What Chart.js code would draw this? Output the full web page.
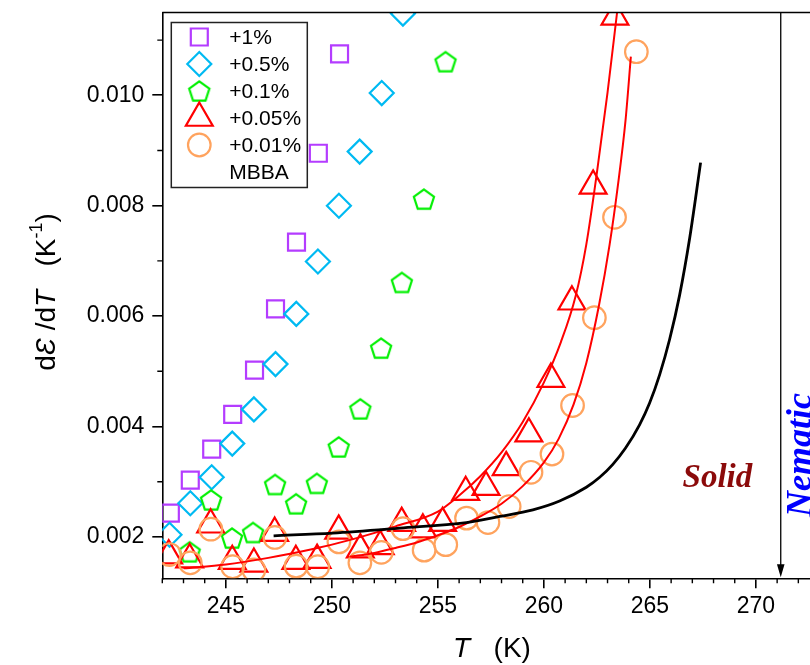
<!DOCTYPE html>
<html>
<head>
<meta charset="utf-8">
<script src="https://cdn.jsdelivr.net/npm/chart.js@4.4.1/dist/chart.umd.min.js"></script>
<style>
  html, body { margin: 0; padding: 0; background: #fff; overflow: hidden; }
  #wrap { width: 810px; height: 665px; position: relative; }
</style>
</head>
<body>
<div id="wrap"><canvas id="chart"></canvas></div>
<script>
// -------- DATA -------- //

const seriesNames = ['+1%', '+0.5%', '+0.1%', '+0.05%', '+0.01%', 'MBBA'];

// +1 %
const tOne = [242.38, 243.32, 244.33, 245.32, 246.35, 247.34, 248.33, 249.36, 250.36];
const dOne = [0.00243, 0.00303, 0.00359, 0.00422, 0.00502, 0.00613, 0.00734, 0.00895, 0.01075];

// +0.5 %
const tHalf = [242.34, 243.32, 244.33, 245.30, 246.32, 247.34, 248.32, 249.34, 250.33, 251.31, 252.35, 253.35];
const dHalf = [0.00204, 0.00261, 0.00308, 0.00369, 0.00431, 0.00513, 0.00604, 0.00699, 0.00800, 0.00898, 0.01004, 0.01148];

// +0.1 %
const tTenth = [243.29, 244.30, 245.29, 246.28, 247.32, 248.31, 249.29, 250.32, 251.34, 252.32, 253.30, 254.34, 255.36];
const dTenth = [0.00173, 0.00267, 0.00198, 0.00208, 0.00295, 0.00260, 0.00297, 0.00363, 0.00432, 0.00542, 0.00661, 0.00812, 0.01061];

// +0.05 %
const tFive = [242.30, 243.29, 244.28, 245.30, 246.32, 247.30, 248.30, 249.30, 250.32, 251.34, 252.28,
  253.29, 254.29, 255.22, 256.31, 257.27, 258.22, 259.29, 260.33, 261.32, 262.32, 263.35];
const dFive = [0.00166, 0.00159, 0.00222, 0.00156, 0.00151, 0.00207, 0.00156, 0.00158, 0.00211, 0.00177, 0.00183,
  0.00225, 0.00213, 0.00225, 0.00281, 0.00290, 0.00326, 0.00387, 0.00486, 0.00626, 0.00836, 0.01142];

// +0.01 %
const tOneHun = [242.34, 243.32, 244.29, 245.32, 246.32, 247.31, 248.31, 249.33, 250.33, 251.32, 252.33, 253.35,
  254.35, 255.37, 256.35, 257.36, 258.36, 259.39, 260.38, 261.35, 262.38, 263.33, 264.36];
const dOneHun = [0.00168, 0.00153, 0.00214, 0.00146, 0.00140, 0.00199, 0.00147, 0.00146, 0.00191, 0.00153, 0.00172, 0.00215,
  0.00176, 0.00186, 0.00234, 0.00226, 0.00255, 0.00317, 0.00350, 0.00438, 0.00597, 0.00779, 0.01079];

// fitted curves through the +0.05 % and +0.01 % points
const tFitFive = [243.0, 245.0, 247.0, 249.0, 251.0, 253.0, 255.0, 256.0, 257.0, 258.0, 259.0, 260.0,
  260.8, 261.5, 262.0, 262.5, 263.0, 263.45];
const dFitFive = [0.00143, 0.00150, 0.00162, 0.00177, 0.00196, 0.00219, 0.00246, 0.00275, 0.00310, 0.00353, 0.00408, 0.00480,
  0.00553, 0.00637, 0.00730, 0.00860, 0.01005, 0.01150];

const tFitOneHun = [250.83, 252.0, 253.0, 254.0, 255.0, 256.0, 257.0, 258.0, 259.0, 260.0, 260.7, 261.4,
  262.0, 262.6, 263.1, 263.5, 263.85, 264.1];
const dFitOneHun = [0.00164, 0.00171, 0.00180, 0.00190, 0.00203, 0.00218, 0.00237, 0.00260, 0.00292, 0.00335, 0.00378, 0.00440,
  0.00515, 0.00620, 0.00730, 0.00840, 0.00955, 0.01070];

// pure MBBA
const tMbba = [247.25, 250.03, 253.19, 256.34, 257.92, 259.48, 260.74, 262.00, 262.63, 263.24, 263.85, 264.51,
  264.98, 265.46, 265.93, 266.40, 266.87, 267.39];
const dMbba = [0.00202, 0.00207, 0.00216, 0.00226, 0.00237, 0.00249, 0.00265, 0.00290, 0.00308, 0.00331, 0.00361, 0.00403,
  0.00442, 0.00494, 0.00558, 0.00638, 0.00740, 0.00878];

// axis ranges, ticks, solid -> nematic transition
const xRange = [242, 272.55];
const yRange = [0.00125, 0.0115];
const xMajor = 5, xMinor = 1;
const yMajor = 0.002, yMinor = 0.001;
const tNematic = 271.17;

// -------- HELPERS -------- //

const pts = (xs, ys) => xs.map((x, i) => ({ x: x, y: ys[i] }));

const SANS = "'Liberation Sans', Arial, sans-serif";
const SERIF = "'Liberation Serif', 'Times New Roman', serif";

// Chart.js has no pentagon, so draw one on a small canvas
function pentagon(color) {
  const c = document.createElement('canvas');
  c.width = 28; c.height = 28;
  const g = c.getContext('2d');
  const R = 10.6, cx = 14, cy = 15;
  g.strokeStyle = color;
  g.lineWidth = 2.2;
  g.lineJoin = 'miter';
  g.beginPath();
  for (let k = 0; k < 5; k++) {
    const a = -Math.PI / 2 + k * 2 * Math.PI / 5;
    const px = cx + R * Math.cos(a), py = cy + R * Math.sin(a);
    k ? g.lineTo(px, py) : g.moveTo(px, py);
  }
  g.closePath();
  g.stroke();
  return c;
}

const PURPLE = '#B43CFF', BLUE = '#00BAF2', GREEN = '#00F000', RED = '#FF0000', ORANGE = '#FFA35E';

function markers(label, xs, ys, color, style, r, order) {
  return {
    label: label,
    data: pts(xs, ys),
    showLine: false,
    pointStyle: style,
    pointRadius: r,
    pointHoverRadius: r,
    pointBorderWidth: 2.2,
    pointBorderColor: color,
    pointBackgroundColor: 'rgba(0,0,0,0)',
    clip: 0,
    order: order
  };
}

function curve(label, xs, ys, color, width, order) {
  return {
    label: label,
    data: pts(xs, ys),
    showLine: true,
    borderColor: color,
    borderWidth: width,
    pointRadius: 0,
    pointHoverRadius: 0,
    cubicInterpolationMode: 'monotone',
    clip: 0,
    order: order
  };
}

// -------- PLUGINS -------- //

// top frame line, minor ticks, arrow and phase labels
const decorPlugin = {
  id: 'decor',
  afterDatasetsDraw(chart) {
    const { ctx, chartArea: a, scales: { x, y } } = chart;
    ctx.save();
    ctx.strokeStyle = '#000';
    ctx.lineWidth = 1.6;
    ctx.beginPath();
    ctx.moveTo(a.left, a.top);
    ctx.lineTo(a.right, a.top);
    ctx.stroke();

    ctx.lineWidth = 1.4;
    ctx.beginPath();
    for (let t = Math.ceil(xRange[0]); t <= xRange[1]; t += xMinor) {
      if (t % xMajor === 0) continue;
      const px = x.getPixelForValue(t);
      ctx.moveTo(px, a.bottom);
      ctx.lineTo(px, a.bottom + 5);
    }
    for (let v = yMinor * 2; v <= yRange[1]; v += yMinor) {
      if (Math.round(v / yMinor) % 2 === 0) continue;
      const py = y.getPixelForValue(v);
      ctx.moveTo(a.left, py);
      ctx.lineTo(a.left - 5, py);
    }
    ctx.stroke();

    // transition arrow
    const ax = x.getPixelForValue(tNematic);
    ctx.lineWidth = 1.3;
    ctx.beginPath();
    ctx.moveTo(ax, a.top);
    ctx.lineTo(ax, a.bottom - 10);
    ctx.stroke();
    ctx.fillStyle = '#000';
    ctx.beginPath();
    ctx.moveTo(ax, a.bottom - 1);
    ctx.lineTo(ax - 3.8, a.bottom - 14);
    ctx.lineTo(ax + 3.8, a.bottom - 14);
    ctx.closePath();
    ctx.fill();

    ctx.font = 'italic bold 33px ' + SERIF;
    ctx.fillStyle = '#8B0A0A';
    ctx.textBaseline = 'alphabetic';
    ctx.textAlign = 'left';
    ctx.fillText('Solid', x.getPixelForValue(266.54), y.getPixelForValue(0.00291));

    ctx.save();
    ctx.translate(x.getPixelForValue(272.62), y.getPixelForValue(0.00236));
    ctx.rotate(-Math.PI / 2);
    ctx.font = 'italic bold 36px ' + SERIF;
    ctx.fillStyle = '#0000FF';
    ctx.fillText('Nematic', 0, 0);
    ctx.restore();
    ctx.restore();
  }
};

function drawRuns(ctx, runs, cx, cy) {
  let total = 0;
  runs.forEach(r => { ctx.font = r.font; r.w = ctx.measureText(r.text).width; total += r.w; });
  let px = cx - total / 2;
  runs.forEach(r => { ctx.font = r.font; ctx.fillText(r.text, px, cy + (r.dy || 0)); px += r.w; });
}

// axis titles with italic symbols
const titlePlugin = {
  id: 'titles',
  afterDraw(chart) {
    const { ctx } = chart;
    const reg = '28px ' + SANS, ita = 'italic 28px ' + SANS, sup = '18px ' + SANS;
    ctx.save();
    ctx.fillStyle = '#000';
    ctx.textAlign = 'left';
    ctx.textBaseline = 'alphabetic';
    drawRuns(ctx, [
      { text: 'T', font: ita },
      { text: '   (K)', font: reg }
    ], 492, 657);

    ctx.translate(55, 292);
    ctx.rotate(-Math.PI / 2);
    drawRuns(ctx, [
      { text: 'd', font: reg },
      { text: 'Ɛ', font: ita },
      { text: ' /d', font: reg },
      { text: 'T', font: ita },
      { text: '   (K', font: reg },
      { text: '-1', font: sup, dy: -13 },
      { text: ')', font: reg }
    ], 0, 0);
    ctx.restore();
  }
};

// boxed legend in the upper left corner
const legendPlugin = {
  id: 'boxLegend',
  afterDraw(chart) {
    const { ctx, chartArea: a } = chart;
    const left = a.left + 9, top = a.top + 10, w = 136, h = 165;
    ctx.save();
    ctx.fillStyle = '#fff';
    ctx.fillRect(left, top, w, h);
    ctx.strokeStyle = '#222';
    ctx.lineWidth = 1.5;
    ctx.strokeRect(left, top, w, h);

    const items = chart.data.datasets.filter(d => d.legendRow !== undefined)
      .sort((p, q) => p.legendRow - q.legendRow);
    items.forEach((d, i) => {
      const cy = top + 14.5 + i * 27;
      if (d.pointStyle) {
        ctx.save();
        ctx.strokeStyle = d.pointBorderColor;
        ctx.fillStyle = 'rgba(0,0,0,0)';
        ctx.lineWidth = d.pointBorderWidth;
        Chart.helpers.drawPoint(ctx, {
          pointStyle: d.pointStyle, radius: d.pointRadius, rotation: 0, borderWidth: d.pointBorderWidth
        }, left + 28, cy);
        ctx.restore();
      }
      ctx.fillStyle = '#000';
      ctx.font = '21px ' + SANS;
      ctx.textBaseline = 'middle';
      ctx.fillText(d.label, left + 58, cy + 1);
    });
    ctx.restore();
  }
};

// -------- CHART -------- //

const ds = [
  markers(seriesNames[0], tOne, dOne, PURPLE, 'rect', 12, 7),
  markers(seriesNames[1], tHalf, dHalf, BLUE, 'rectRot', 12, 6),
  markers(seriesNames[2], tTenth, dTenth, GREEN, pentagon(GREEN), 14, 5),
  markers(seriesNames[3], tFive, dFive, RED, 'triangle', 15.5, 4),
  markers(seriesNames[4], tOneHun, dOneHun, ORANGE, 'circle', 11.3, 3),
  curve('fit 0.05', tFitFive, dFitFive, RED, 2, 1),
  curve('fit 0.01', tFitOneHun, dFitOneHun, RED, 2, 1),
  curve(seriesNames[5], tMbba, dMbba, '#000', 2.8, 0)
];
ds.forEach(d => { const k = seriesNames.indexOf(d.label); if (k >= 0) d.legendRow = k; });
ds[7].pointStyle = false;

const tickFont = { family: SANS, size: 23 };

new Chart(document.getElementById('chart'), {
  type: 'scatter',
  data: { datasets: ds },
  options: {
    responsive: true,
    maintainAspectRatio: false,
    animation: false,
    events: [],
    layout: { autoPadding: false, padding: { top: 12.5, left: 0, right: 0, bottom: 0 } },
    scales: {
      x: {
        type: 'linear',
        min: xRange[0],
        max: xRange[1],
        afterFit: s => { s.height = 86.7; s.paddingLeft = 0; s.paddingRight = 0; },
        border: { color: '#000', width: 1.6 },
        grid: { drawOnChartArea: false, color: '#000', lineWidth: 1.6, tickLength: 10 },
        ticks: {
          stepSize: xMajor,
          includeBounds: false,
          autoSkip: false,
          maxRotation: 0,
          color: '#000',
          font: tickFont,
          padding: 5
        }
      },
      y: {
        type: 'linear',
        min: yRange[0],
        max: yRange[1],
        afterFit: s => { s.width = 162.3; s.paddingTop = 0; s.paddingBottom = 0; },
        border: { color: '#000', width: 1.6 },
        grid: { drawOnChartArea: false, color: '#000', lineWidth: 1.6, tickLength: 10 },
        ticks: {
          stepSize: yMajor,
          includeBounds: false,
          autoSkip: false,
          color: '#000',
          font: tickFont,
          padding: 8,
          callback: v => v.toFixed(3)
        }
      }
    },
    plugins: {
      legend: { display: false },
      tooltip: { enabled: false }
    }
  },
  plugins: [decorPlugin, legendPlugin, titlePlugin]
});
</script>
</body>
</html>
